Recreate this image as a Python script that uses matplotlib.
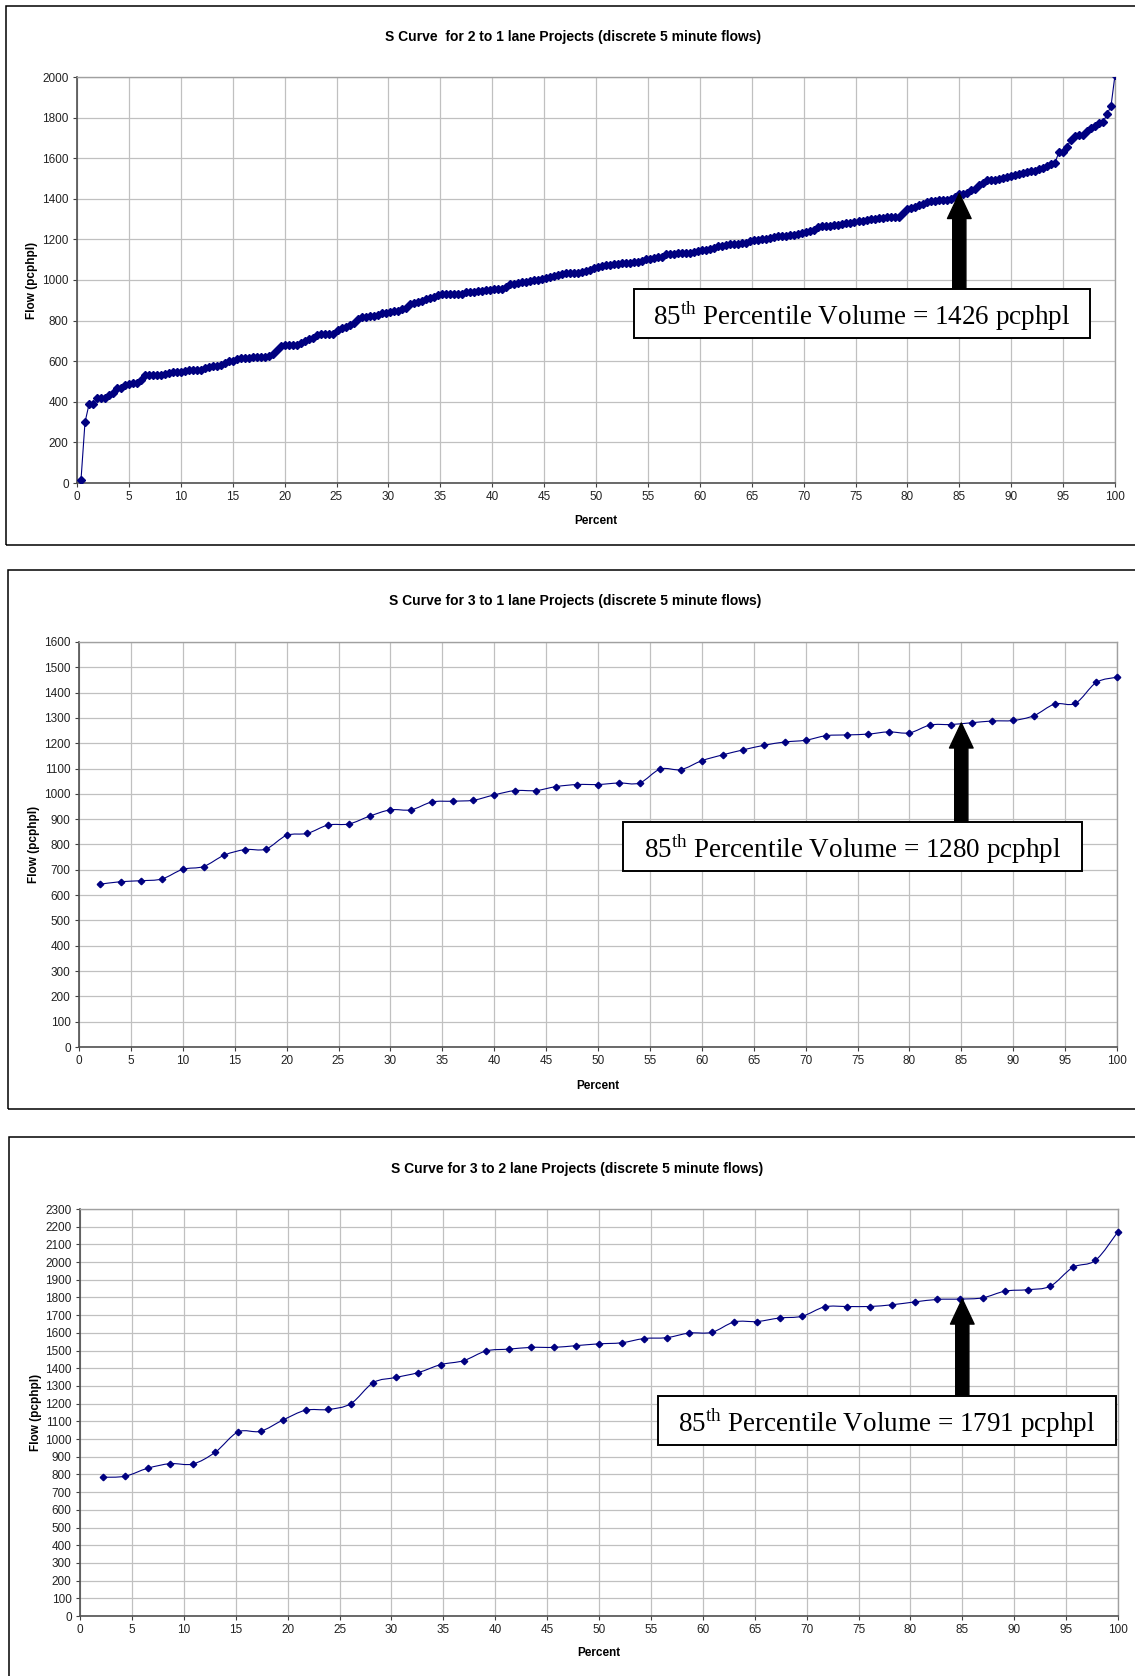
"""S curves for lane-drop projects (discrete 5 minute flows)."""
import numpy as np
import matplotlib
matplotlib.use('Agg')
import matplotlib.pyplot as plt
from matplotlib.path import Path
from matplotlib.patches import PathPatch, Rectangle, FancyArrowPatch, ArrowStyle

plt.rcParams['font.family'] = ['Liberation Sans', 'DejaVu Sans']
plt.rcParams['mathtext.fontset'] = 'custom'
plt.rcParams['mathtext.rm'] = 'Liberation Serif'

W, H = 1135, 1676

# ---- data ----
# 2 to 1 lane: sorted 5-minute flows (pcphpl), percent = rank / count
flow_2to1 = [
    16, 300, 387, 387, 418, 421, 421, 433, 444, 466, 470, 482, 490, 493, 495,
    507, 530, 531, 531, 533, 534, 539, 544, 546, 548, 548, 552, 556, 556, 556,
    559, 566, 570, 574, 574, 580, 592, 600, 602, 611, 615, 615, 616, 619,
    620, 621, 623, 625, 635, 655, 673, 678, 678, 679, 681, 688, 701, 709, 714,
    727, 734, 734, 734, 735, 752, 764, 770, 780, 790, 808, 817, 818, 821, 821,
    826, 835, 838, 841, 845, 848, 855, 863, 881, 888, 894, 899, 904, 911,
    917, 924, 929, 932, 932, 932, 932, 932, 939, 940, 942, 945, 947, 950, 952,
    954, 954, 954, 964, 979, 982, 987, 988, 990, 993, 998, 1002, 1007, 1010, 1015,
    1020, 1023, 1030, 1035, 1035, 1035, 1036, 1041, 1046, 1051, 1058, 1063, 1068, 1073,
    1075, 1078, 1081, 1085, 1086, 1086, 1089, 1089, 1096, 1101, 1104, 1106, 1111, 1115,
    1127, 1130, 1130, 1132, 1133, 1135, 1135, 1138, 1143, 1146, 1148, 1151, 1159, 1166,
    1169, 1174, 1177, 1177, 1179, 1180, 1184, 1190, 1195, 1198, 1200, 1203, 1208, 1211, 1216,
    1217, 1218, 1220, 1221, 1225, 1230, 1236, 1243, 1246, 1259, 1264, 1264, 1266, 1269,
    1272, 1275, 1279, 1282, 1287, 1290, 1293, 1297, 1300, 1302, 1303, 1307, 1308, 1310,
    1311, 1311, 1328, 1349, 1356, 1362, 1369, 1375, 1384, 1389, 1390, 1392, 1393, 1395,
    1400, 1410,
    1426, 1426, 1428, 1441, 1448, 1469, 1477, 1492, 1492, 1493, 1497, 1502, 1507, 1510,
    1516, 1521, 1526, 1531, 1536, 1539, 1546, 1554, 1564, 1572, 1575, 1631, 1633, 1656,
    1689, 1708, 1715, 1715, 1734, 1748, 1757, 1775, 1777, 1816, 1856, 2010,
]
pct_2to1 = np.arange(1, len(flow_2to1) + 1) / len(flow_2to1) * 100

pct_3to1 = [2, 4, 6, 8, 10, 12, 14, 16, 18, 20, 22, 24, 26, 28, 30, 32, 34, 36, 38, 40,
            42, 44, 46, 48, 50, 52, 54, 56, 58, 60, 62, 64, 66, 68, 70, 72, 74, 76, 78, 80,
            82, 84, 86, 88, 90, 92, 94, 96, 98, 100]
flow_3to1 = [643, 653, 657, 664, 702, 713, 758, 780, 782, 836, 844, 877, 881, 912, 937,
             937, 968, 971, 975, 996, 1013, 1013, 1029, 1037, 1037, 1043, 1043, 1098, 1096,
             1131, 1154, 1174, 1192, 1205, 1212, 1230, 1233, 1236, 1245, 1241, 1272, 1274,
             1281, 1288, 1290, 1309, 1355, 1358, 1440, 1461]

pct_3to2 = [2.17, 4.35, 6.52, 8.70, 10.87, 13.04, 15.22, 17.39, 19.57, 21.74, 23.91,
            26.09, 28.26, 30.43, 32.61, 34.78, 36.96, 39.13, 41.30, 43.48, 45.65, 47.83,
            50.00, 52.17, 54.35, 56.52, 58.70, 60.87, 63.04, 65.22, 67.39, 69.57, 71.74,
            73.91, 76.09, 78.26, 80.43, 82.61, 84.78, 86.96, 89.13, 91.30, 93.48, 95.65,
            97.83, 100.00]
flow_3to2 = [784, 790, 835, 861, 859, 926, 1040, 1044, 1108, 1163, 1167, 1200, 1319, 1348,
             1376, 1421, 1443, 1498, 1508, 1518, 1518, 1528, 1538, 1544, 1568, 1573, 1599,
             1603, 1662, 1664, 1684, 1694, 1747, 1749, 1749, 1759, 1775, 1789, 1791, 1798,
             1836, 1844, 1864, 1970, 2010, 2172]

titles = ['S Curve  for 2 to 1 lane Projects (discrete 5 minute flows)',
          'S Curve for 3 to 1 lane Projects (discrete 5 minute flows)',
          'S Curve for 3 to 2 lane Projects (discrete 5 minute flows)']
p85_values = [1426, 1280, 1791]

NAVY = '#000080'


def smooth_path(x, y):
    # Excel-style smoothed line: cubic bezier through the points
    x = np.asarray(x, float)
    y = np.asarray(y, float)
    n = len(x)
    verts = [(x[0], y[0])]
    codes = [Path.MOVETO]
    for i in range(n - 1):
        i0 = max(i - 1, 0)
        i3 = min(i + 2, n - 1)
        c1 = (x[i] + (x[i + 1] - x[i0]) / 6, y[i] + (y[i + 1] - y[i0]) / 6)
        c2 = (x[i + 1] - (x[i3] - x[i]) / 6, y[i + 1] - (y[i3] - y[i]) / 6)
        verts += [c1, c2, (x[i + 1], y[i + 1])]
        codes += [Path.CURVE4] * 3
    return Path(verts, codes)


fig = plt.figure(figsize=(W / 100, H / 100), dpi=100)


def px_rect(x0, y0, x1, y1):
    return [x0 / W, 1 - y1 / H, (x1 - x0) / W, (y1 - y0) / H]


panels = [
    dict(x=pct_2to1, y=flow_2to1, smooth=False, ms=4.0,
         ax=(77, 77, 1115, 483), ymax=2000, ystep=200,
         frame=(6, 6, 545), title_xy=(573, 37), xl_y=521, yl_x=32,
         box=(0.537, 0.357, 0.439, 0.121)),
    dict(x=pct_3to1, y=flow_3to1, smooth=True, ms=3.3,
         ax=(79, 642, 1117, 1047), ymax=1600, ystep=100,
         frame=(8, 570, 1109), title_xy=(575, 601), xl_y=1086, yl_x=34,
         box=(0.524, 0.434, 0.442, 0.122)),
    dict(x=pct_3to2, y=flow_3to2, smooth=True, ms=3.3,
         ax=(80, 1209, 1118, 1616), ymax=2300, ystep=100,
         frame=(9, 1137, 1700), title_xy=(577, 1169), xl_y=1653, yl_x=36,
         box=(0.557, 0.420, 0.441, 0.120)),
]

for i, p in enumerate(panels):
    # chart area frame (right side runs off the page)
    fl, ft, fb = p['frame']
    fig.patches.append(Rectangle((fl / W, 1 - fb / H), 1.2, (fb - ft) / H,
                                 transform=fig.transFigure, fill=False,
                                 edgecolor='black', linewidth=1.1))

    x0, y0, x1, y1 = p['ax']
    ax = fig.add_axes(px_rect(x0, y0, x1, y1))
    ax.set_xlim(0, 100)
    ax.set_ylim(0, p['ymax'])
    ax.set_xticks(np.arange(0, 101, 5))
    ax.set_yticks(np.arange(0, p['ymax'] + 1, p['ystep']))
    ax.grid(True, color='#c0c0c0', linewidth=0.9, zorder=0)
    ax.set_axisbelow(True)
    ax.tick_params(direction='out', length=3, width=0.8, color='#404040',
                   labelsize=8.5, pad=3, labelcolor='#222222')
    for side in ['left', 'bottom']:
        ax.spines[side].set_color('#505050')
        ax.spines[side].set_linewidth(1.2)
    for side in ['top', 'right']:
        ax.spines[side].set_color('#a0a0a0')
        ax.spines[side].set_linewidth(1.0)

    if p['smooth']:
        ax.add_patch(PathPatch(smooth_path(p['x'], p['y']), facecolor='none',
                               edgecolor=NAVY, linewidth=0.8, zorder=3))
        ax.plot(p['x'], p['y'], linestyle='none', marker='D', ms=p['ms'],
                color=NAVY, zorder=4, clip_on=False)
    else:
        ax.plot(p['x'], p['y'], '-', color=NAVY, linewidth=0.8, marker='D',
                ms=p['ms'], zorder=4)

    # 85th percentile callout
    bx, by, bw, bh = p['box']
    ax.add_patch(Rectangle((bx, by), bw, bh, transform=ax.transAxes,
                           facecolor='white', edgecolor='black',
                           linewidth=1.4, zorder=6, clip_on=False))
    ax.text(bx + bw / 2, by + bh / 2 - 0.006,
            r'85$^{\mathrm{th}}$ Percentile Volume = %d pcphpl' % p85_values[i],
            transform=ax.transAxes, ha='center', va='center',
            family='Liberation Serif', fontsize=19.5, zorder=7)
    box_top = (by + bh) * p['ymax']
    ax.add_patch(FancyArrowPatch(
        (85, box_top), (85, p85_values[i]),
        arrowstyle=ArrowStyle.Simple(head_length=18, head_width=17, tail_width=9.5),
        mutation_scale=1, color='black', shrinkA=0, shrinkB=0, zorder=5))

    tx, ty = p['title_xy']
    fig.text(tx / W, 1 - ty / H, titles[i], ha='center', va='center',
             fontsize=10, fontweight='bold')
    fig.text((x0 + x1) / 2 / W, 1 - p['xl_y'] / H, 'Percent', ha='center',
             va='center', fontsize=8.5, fontweight='bold')
    fig.text(p['yl_x'] / W, 1 - (y0 + y1) / 2 / H, 'Flow (pcphpl)', ha='center',
             va='center', rotation=90, fontsize=8.5, fontweight='bold')

fig.savefig('out.png', dpi=100)
